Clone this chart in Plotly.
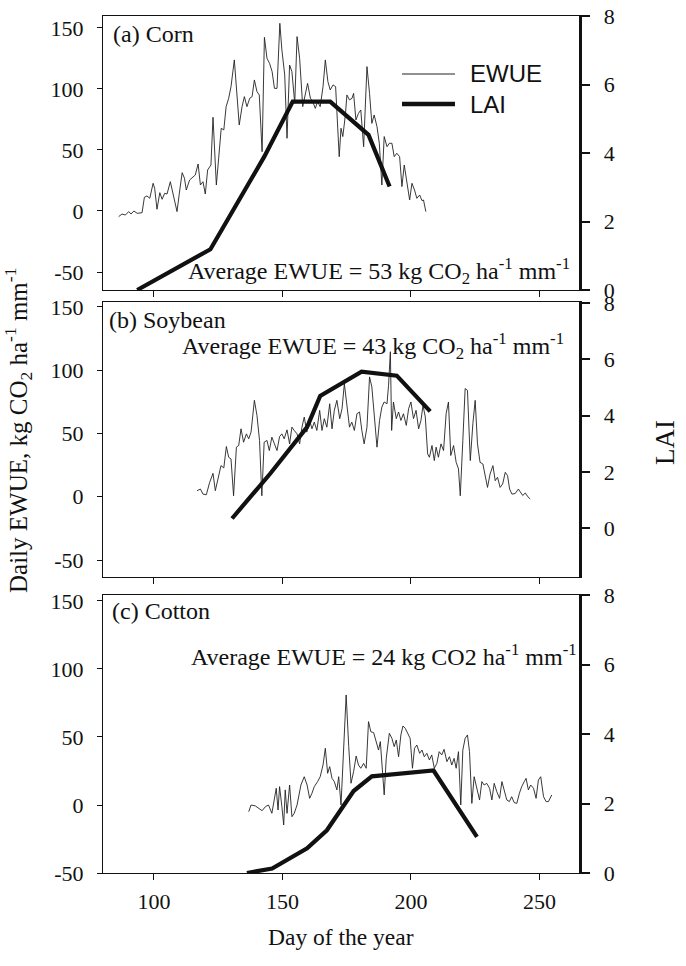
import plotly.graph_objects as go

# ---------------- data ----------------
# (a) Corn: daily EWUE (kg CO2 ha-1 mm-1) and LAI
corn_day = [86.3, 87.6, 88.9, 90.2, 91.1, 92.2, 93.5, 95.4, 96.3, 97.3, 98.4, 99.7, 100.3, 101.2,
            102.3, 103.2, 104.2, 105.1, 106.4, 107.7, 109.0, 109.9, 111.0, 111.9, 112.6, 113.9,
            114.8, 116.1, 117.2, 118.1, 119.1, 120.0, 120.9, 121.7, 122.2, 123.0, 124.3, 125.2,
            126.2, 127.2, 128.1, 129.1, 130.0, 131.3, 132.3, 133.2, 134.3, 135.2, 136.2, 137.3,
            138.2, 139.1, 140.1, 141.0, 142.1, 143.0, 144.0, 145.0, 146.0, 146.9, 147.9, 149.0,
            149.8, 150.9, 151.8, 152.8, 153.7, 154.8, 155.7, 156.7, 157.9, 158.9, 159.8, 160.9,
            161.8, 162.8, 163.7, 164.7, 165.8, 166.7, 167.7, 168.6, 169.7, 170.7, 171.6, 172.1,
            172.8, 173.5, 174.5, 175.1, 176.1, 177.1, 177.7, 178.6, 179.6, 180.5, 181.6, 182.9,
            183.9, 184.8, 185.7, 186.8, 187.7, 188.7, 189.6, 190.7, 191.6, 192.6, 193.5, 194.5,
            195.6, 196.5, 197.4, 198.4, 199.5, 200.4, 201.4, 202.3, 203.4, 204.3, 204.9, 205.8]
corn_ewue = [-4.6, -2.5, -3.3, -0.5, -2.5, 0.0, -1.9, -1.4, 11.2, 12.3, 10.4, 22.7, 18.6, 1.4,
             15.0, 9.6, 14.5, 13.9, 24.0, 11.7, -0.5, 14.5, 31.4, 26.8, 17.2, 25.4,
             26.8, 29.5, 38.5, 21.3, 24.0, 13.9, 33.6, 36.3, 37.7, 76.8, 21.3, 43.2,
             67.8, 66.4, 85.5, 92.4, 101.9, 123.8, 96.4, 70.5, 85.5, 93.7, 85.5, 92.4,
             93.7, 107.4, 97.8, 95.1, 48.6, 142.3, 125.1, 121.0, 114.2, 100.5, 100.5, 153.8,
             132.0, 111.5, 59.6, 119.6, 114.2, 88.3, 142.9, 125.1, 85.5, 95.1, 104.6, 92.4,
             89.6, 84.1, 89.6, 85.5, 101.9, 123.8, 106.0, 99.2, 103.3, 101.9, 70.5, 44.5,
             67.8, 61.0, 78.7, 95.1, 91.0, 92.4, 96.4, 74.6, 80.0, 82.8, 52.7, 118.3,
             96.4, 71.8, 78.7, 69.1, 55.5, 21.3, 61.0, 52.7, 55.5, 55.5, 44.5, 47.3,
             44.5, 20.0, 37.7, 22.7, 9.0, 22.7, 17.2, 10.4, 13.1, 8.5, 9.0, -0.5]
corn_lai_day = [93.5, 122.0, 143.0, 154.0, 168.6, 183.5, 191.7]
corn_lai = [0.0, 1.19, 3.9, 5.5, 5.5, 4.53, 3.02]

# (b) Soybean
soy_day = [116.8, 118.1, 119.1, 120.4, 121.7, 123.0, 123.9, 125.2, 126.1, 127.2, 128.2, 129.1,
           130.0, 131.0, 132.1, 133.0, 133.9, 134.9, 136.0, 136.9, 137.8, 139.1, 140.1, 141.1,
           142.0, 142.9, 144.0, 144.9, 145.9, 146.9, 147.9, 148.9, 149.8, 150.7, 151.8, 152.8,
           153.7, 154.6, 155.7, 156.7, 157.6, 158.5, 159.5, 160.6, 161.5, 162.4, 163.4, 164.5,
           165.4, 166.3, 167.3, 168.4, 169.3, 170.2, 171.2, 172.3, 173.2, 174.1, 175.1, 176.1,
           177.0, 178.0, 179.0, 180.0, 180.9, 181.8, 182.9, 183.9, 184.8, 185.9, 186.8, 187.8,
           188.7, 189.6, 190.7, 191.3, 192.0, 192.5, 193.2, 194.3, 195.2, 196.1, 197.1, 198.2,
           199.1, 200.0, 201.0, 202.0, 203.0, 203.9, 204.7, 205.6, 206.5, 207.2, 208.2, 209.1,
           209.8, 210.7, 211.7, 212.7, 213.7, 214.6, 215.5, 216.6, 217.6, 218.5, 219.2, 220.2,
           221.1, 222.0, 223.1, 224.1, 225.0, 225.9, 226.9, 228.0, 228.9, 229.8, 230.8, 231.9,
           232.8, 233.7, 234.7, 235.7, 236.7, 237.6, 238.4, 239.3, 240.6, 241.8, 243.5, 244.5,
           245.5, 246.4]
soy_ewue = [4.8, 6.1, 2.1, 1.6, 11.4, 18.5, 4.8, 18.0, 24.6, 22.8, 39.7, 31.2,
            29.9, 0.8, 39.2, 40.5, 53.7, 43.1, 49.7, 45.8, 51.1, 76.2, 64.3, 44.5,
            0.8, 43.1, 44.5, 36.5, 47.1, 41.8, 36.5, 47.6, 49.7, 45.8, 52.9, 41.8,
            55.0, 52.4, 49.7, 41.8, 55.0, 63.0, 51.1, 60.3, 53.7, 59.0, 52.4, 68.3,
            52.4, 61.7, 55.0, 73.5, 53.7, 68.3, 76.2, 61.7, 69.6, 89.4, 72.2, 55.0,
            59.0, 52.4, 65.6, 67.0, 52.4, 41.8, 55.0, 94.7, 86.8, 57.7, 39.2, 60.3,
            70.9, 74.9, 73.5, 88.1, 114.6, 52.4, 74.9, 61.7, 67.0, 60.3, 65.6, 56.4,
            69.6, 74.9, 61.7, 68.3, 53.7, 60.3, 72.2, 63.0, 33.9, 31.2, 40.5, 28.6,
            39.2, 31.2, 41.8, 36.5, 65.6, 74.9, 32.6, 40.5, 27.2, 22.0, 0.8, 44.5,
            85.5, 84.1, 28.6, 57.7, 76.2, 41.8, 27.2, 25.9, 15.4, 7.4, 18.0, 24.6,
            12.7, 15.4, 7.4, 10.1, 19.3, 16.7, 6.1, 2.1, 2.6, 6.1, 1.0, 3.0,
            0.0, -1.8]
soy_lai_day = [130.4, 145.3, 159.6, 164.7, 180.8, 194.5, 207.5]
soy_lai = [0.34, 1.94, 3.59, 4.7, 5.56, 5.42, 4.15]

# (c) Cotton
cot_day = [136.9, 137.8, 139.5, 140.8, 142.1, 143.4, 144.6, 145.9, 146.8, 147.6, 148.3, 148.9,
           149.8, 150.5, 151.1, 151.8, 152.8, 153.7, 154.6, 155.7, 157.2, 158.5, 159.6, 160.6,
           161.5, 162.4, 163.7, 164.7, 165.8, 166.7, 167.6, 168.4, 169.3, 170.2, 171.2, 171.9,
           172.8, 173.8, 174.8, 175.8, 176.7, 177.7, 178.7, 179.6, 180.5, 181.6, 182.6, 183.5,
           184.4, 185.5, 186.5, 187.4, 188.1, 189.0, 189.6, 190.4, 191.6, 192.6, 193.5, 194.3,
           195.2, 196.1, 196.9, 197.8, 198.7, 199.7, 200.6, 201.4, 202.3, 203.4, 204.3, 205.2,
           206.2, 207.2, 208.1, 209.1, 210.1, 211.0, 212.0, 212.9, 214.0, 215.0, 215.9, 216.8,
           217.6, 218.5, 219.4, 220.2, 221.1, 222.0, 222.8, 223.7, 224.6, 225.6, 226.7, 227.6,
           228.5, 229.5, 230.6, 231.5, 232.4, 233.4, 234.5, 235.4, 236.3, 237.3, 238.3, 239.2,
           240.2, 241.2, 242.2, 243.1, 244.1, 244.8, 245.7, 246.6, 247.7, 248.7, 249.6, 250.5,
           251.6, 252.6, 253.5, 254.8]
cot_ewue = [-4.9, 0.0, -0.7, -2.5, -4.2, -1.2, 0.0, -6.1, 4.9, 12.3, -3.7, 13.5,
            -1.2, -14.7, 11.1, -6.1, 14.7, -8.6, -6.1, 0.0, 14.7, 20.8, 14.7, 4.9,
            8.6, 13.5, 17.2, 20.8, 29.4, 41.7, 23.3, 28.2, 19.6, 17.2, 11.1, 20.8,
            0.0, 40.4, 80.9, 42.9, 16.0, 24.5, 36.0, 29.4, 27.0, 30.6, 27.0, 61.3,
            53.9, 53.2, 45.3, 40.4, 46.6, 25.7, 7.4, 34.3, 52.7, 49.0, 42.9, 47.8,
            35.5, 51.5, 58.1, 56.4, 52.7, 49.0, 27.0, 41.7, 44.1, 38.0, 40.4, 35.5,
            38.0, 33.1, 36.8, 27.0, 30.6, 39.2, 36.8, 40.9, 31.9, 35.5, 29.4, 34.3,
            27.0, 39.2, 0.0, 40.4, 49.0, 51.5, 39.2, 1.2, 20.8, 12.3, 3.7, 17.2,
            14.7, 15.9, 12.3, 3.7, 15.9, 9.8, 4.9, 17.2, 11.5, 3.7, 2.5, 6.1,
            1.7, 1.2, 8.6, 13.5, 17.2, 19.6, 11.1, 14.7, 12.3, 4.9, 18.4, 20.8,
            6.1, 2.5, 2.5, 7.4]
cot_lai_day = [136.2, 146.0, 159.6, 167.3, 177.7, 184.8, 208.8, 225.7]
cot_lai = [0.0, 0.13, 0.71, 1.23, 2.36, 2.78, 2.95, 1.04]

panel_labels = ["(a) Corn", "(b) Soybean", "(c) Cotton"]
avg_ewue = [53, 43, 24]
x_ticks = [100, 150, 200, 250]
ewue_ticks = [-50, 0, 50, 100, 150]
ewue_tick_text = ["-50", "0", "50", "100", "150"]
lai_ticks = [0, 2, 4, 6, 8]

# ---------------- layout helpers ----------------
W, H = 686, 966
SERIF = "Liberation Serif"
SANS = "Liberation Sans"
INK = "#111111"


def px(x):
    return x / W


def py(y):
    return 1 - y / H


# pixel boxes of the three panels (top, bottom)
boxes = [(16, 290), (302, 577), (595, 873)]
x_left, x_right = 103, 578.5
ewue_ranges = [[-64.75, 159.8], [-63.4, 153.9], [-50, 154.4]]
lai_ranges = [[0, 8], [-1.74, 8.04], [0, 8.0]]
x_range = [80.2, 265.2]

fig = go.Figure()

series = [
    (corn_day, corn_ewue, corn_lai_day, corn_lai),
    (soy_day, soy_ewue, soy_lai_day, soy_lai),
    (cot_day, cot_ewue, cot_lai_day, cot_lai),
]

for i, (d, e, ld, l) in enumerate(series):
    xa = "x" if i == 0 else f"x{i + 1}"
    ya = "y" if i == 0 else f"y{i + 1}"
    yr = f"y{i + 4}"
    fig.add_trace(go.Scatter(x=d, y=e, mode="lines", xaxis=xa, yaxis=ya,
                             line=dict(color="#222222", width=0.9), showlegend=False,
                             name="EWUE"))
    fig.add_trace(go.Scatter(x=ld, y=l, mode="lines", xaxis=xa, yaxis=yr,
                             line=dict(color=INK, width=4.2), showlegend=False,
                             name="LAI"))

tick_font = dict(family=SERIF, size=22, color=INK)
layout = dict(
    width=W, height=H,
    margin=dict(l=0, r=0, t=0, b=0, pad=0),
    paper_bgcolor="white", plot_bgcolor="white",
    showlegend=False,
)

for i, (top, bot) in enumerate(boxes):
    n = i + 1
    xkey = "xaxis" if n == 1 else f"xaxis{n}"
    ykey = "yaxis" if n == 1 else f"yaxis{n}"
    rkey = f"yaxis{n + 3}"
    dom_y = [py(bot), py(top)]
    layout[xkey] = dict(
        domain=[px(x_left), px(x_right)], range=x_range, anchor="y" if n == 1 else f"y{n}",
        tickvals=x_ticks, ticks="outside", ticklen=6, tickwidth=1, tickcolor=INK,
        showline=True, linecolor=INK, linewidth=1, mirror=True,
        showgrid=False, zeroline=False, automargin=False,
        showticklabels=(n == 3), tickfont=tick_font, ticklabelstandoff=3,
    )
    layout[ykey] = dict(
        domain=dom_y, range=ewue_ranges[i], anchor="x" if n == 1 else f"x{n}",
        tickvals=ewue_ticks, ticktext=ewue_tick_text, ticks="outside", ticklen=5,
        tickwidth=1, tickcolor=INK, showline=True, linecolor=INK, linewidth=1,
        showgrid=False, zeroline=False, automargin=False,
        tickfont=tick_font, ticklabelstandoff=9,
    )
    layout[rkey] = dict(
        overlaying="y" if n == 1 else f"y{n}", side="right",
        anchor="x" if n == 1 else f"x{n}",
        range=lai_ranges[i], tickvals=lai_ticks, ticks="outside", ticklen=9, tickwidth=2,
        tickcolor=INK, showline=True, linecolor=INK, linewidth=2.5,
        showgrid=False, zeroline=False, automargin=False,
        tickfont=tick_font, ticklabelstandoff=9,
    )

# inward ticks along the top edge of the cotton panel
layout["xaxis4"] = dict(
    overlaying="x3", side="top", anchor="y3", range=x_range, tickvals=x_ticks,
    ticks="inside", ticklen=6, tickwidth=1, tickcolor=INK, showticklabels=False,
    showline=False, showgrid=False, zeroline=False, automargin=False,
)

fig.update_layout(**layout)

# panel labels and average EWUE notes
label_pos = [(111, 34), (107, 320), (110, 611)]
avg_pos = [(186, 271), (180, 346), (189, 655)]
for i in range(3):
    lx, ly = label_pos[i]
    fig.add_annotation(text=panel_labels[i], x=px(lx), y=py(ly), xref="paper", yref="paper",
                       xanchor="left", yanchor="middle", showarrow=False,
                       font=dict(family=SERIF, size=24, color=INK))
    co2 = "CO2" if i == 2 else "CO<sub>2</sub>"
    txt = f"Average EWUE = {avg_ewue[i]} kg {co2} ha<sup>-1</sup> mm<sup>-1</sup>"
    ax, ay = avg_pos[i]
    fig.add_annotation(text=txt, x=px(ax), y=py(ay), xref="paper", yref="paper",
                       xanchor="left", yanchor="middle", showarrow=False,
                       font=dict(family=SERIF, size=24, color=INK))

# legend (drawn in panel a)
fig.add_shape(type="line", xref="paper", yref="paper", x0=px(402), x1=px(455),
              y0=py(74), y1=py(74), line=dict(color="#222222", width=1))
fig.add_shape(type="line", xref="paper", yref="paper", x0=px(402), x1=px(455),
              y0=py(104), y1=py(104), line=dict(color=INK, width=4.5))
for txt, yy in [("EWUE", 74), ("LAI", 104)]:
    fig.add_annotation(text=txt, x=px(468), y=py(yy), xref="paper", yref="paper",
                       xanchor="left", yanchor="middle", showarrow=False,
                       font=dict(family=SANS, size=24, color=INK))

# axis titles
fig.add_annotation(text="Daily EWUE, kg CO<sub>2</sub> ha<sup>-1</sup> mm<sup>-1</sup>",
                   x=px(18), y=py(431), xref="paper", yref="paper", textangle=-90,
                   xanchor="center", yanchor="middle", showarrow=False,
                   font=dict(family=SERIF, size=25, color=INK))
fig.add_annotation(text="LAI", x=px(665), y=py(443), xref="paper", yref="paper",
                   textangle=-90, xanchor="center", yanchor="middle", showarrow=False,
                   font=dict(family=SERIF, size=27, color=INK))
fig.add_annotation(text="Day of the year", x=px(341), y=py(937), xref="paper", yref="paper",
                   xanchor="center", yanchor="middle", showarrow=False,
                   font=dict(family=SERIF, size=23.5, color=INK))

fig.write_html("out.html")
